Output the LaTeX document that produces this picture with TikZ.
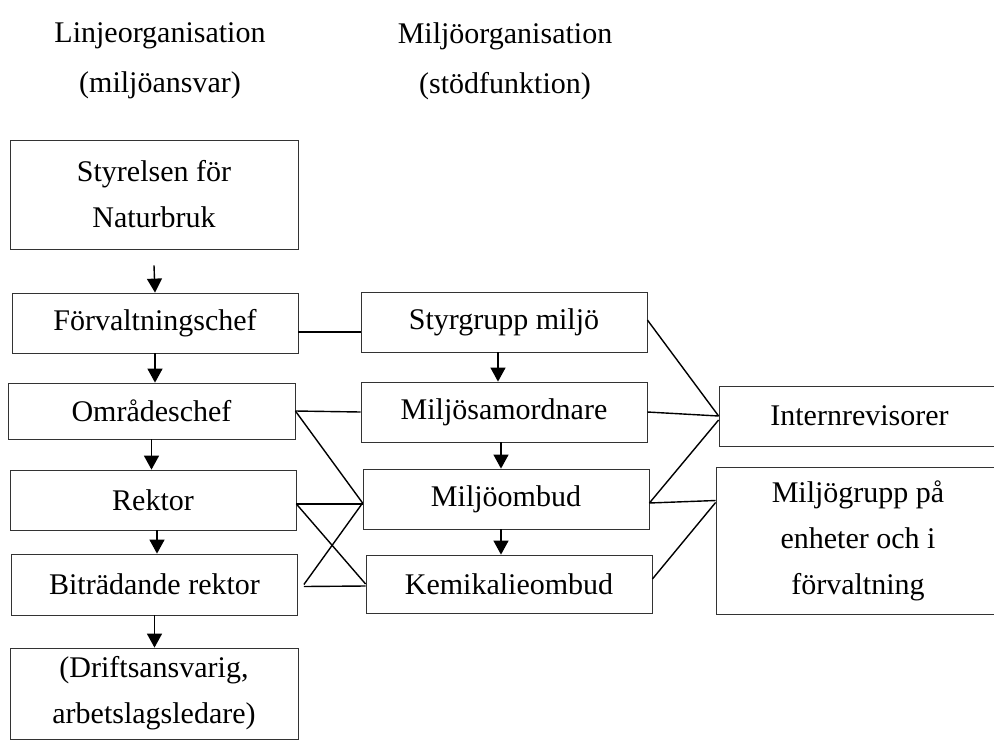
\documentclass[tikz,border=0pt]{standalone}
\usepackage{fontspec}
\setmainfont{Liberation Serif}
\usetikzlibrary{arrows.meta}

\tikzset{
  box/.style={draw=black!80, line width=0.8pt, minimum width=286pt, minimum height=60pt,
    inner sep=0pt, align=center, font=\fontsize{30}{46}\selectfont},
  title/.style={align=center, font=\fontsize{30}{50}\selectfont},
  arr/.style={-{Triangle[width=15pt,length=14pt]}, line width=1.4pt},
  link/.style={line width=1.4pt}
}

\begin{document}
\begin{tikzpicture}[x=1pt,y=-1pt]
\useasboundingbox (0,0) rectangle (994,740);

\node[title] (tline) at (160,61) {Linjeorganisation\\(miljöansvar)};
\node[title] (tmiljo) at (505,61) {Miljöorganisation\\(stödfunktion)};

% linjeorganisation
\node[box, minimum width=288pt, minimum height=109pt] (styrelsen) at (154,194.5) {Styrelsen för\\Naturbruk};
\node[box] (forv) at (155,323) {Förvaltningschef};
\node[box, minimum width=287pt, minimum height=56pt] (omr) at (151.5,411) {Områdeschef};
\node[box] (rektor) at (153,500) {Rektor};
\node[box, minimum height=61pt] (bitr) at (154.5,584.5) {Biträdande rektor};
\node[box, minimum width=288pt, minimum height=91pt] (drift) at (154,693.5) {(Driftsansvarig,\\arbetslagsledare)};

% miljöorganisation
\node[box] (styr) at (504,322) {Styrgrupp miljö};
\node[box] (msam) at (504,412) {Miljösamordnare};
\node[box] (mombud) at (506,499) {Miljöombud};
\node[box, minimum height=58pt] (kemi) at (509,584) {Kemikalieombud};

\node[box, minimum width=281pt] (intern) at (859.5,416) {Internrevisorer};
\node[box, minimum width=284pt, minimum height=147pt] (mgrupp) at (858,540.5) {Miljögrupp på\\enheter och i\\förvaltning};

% pilar
\draw[arr] ([yshift=-16pt]styrelsen.south) -- (forv.north);
\draw[arr] (forv.south) -- (forv.south |- omr.north);
\draw[arr] (omr.south) -- (omr.south |- rektor.north);
\draw[arr] ([xshift=4pt]rektor.south) -- ([xshift=4pt]rektor.south |- bitr.north);
\draw[arr] (bitr.south) -- (bitr.south |- drift.north);
\draw[arr] ([xshift=-6pt]styr.south) -- ([xshift=-6pt]styr.south |- msam.north);
\draw[arr] ([xshift=-5pt]mombud.north |- msam.south) -- ([xshift=-5pt]mombud.north);
\draw[arr] ([xshift=-5pt]mombud.south) -- ([xshift=-5pt]mombud.south |- kemi.north);

% linjer
\draw[link] ([yshift=-9pt]forv.east) -- ([yshift=-10pt]styr.west);
\draw[link] (omr.east) -- (msam.west);
\draw[link] (omr.east) -- ([yshift=-4pt]mombud.west);
\draw[link] ([yshift=-4pt]rektor.east) -- ([yshift=-5pt]mombud.west);
\draw[link] ([yshift=-4pt]rektor.east) -- (kemi.west);
\draw[link] ([xshift=6pt]bitr.east) -- ([yshift=-4pt]mombud.west);
\draw[link] ([xshift=6pt,yshift=-2pt]bitr.east) -- ([yshift=-2pt]kemi.west);

\draw[link] ([yshift=2pt]styr.east) -- (intern.west);
\draw[link] (msam.east) -- (intern.west);
\draw[link] ([yshift=-4pt]mombud.east) -- ([yshift=-4pt]intern.west);
\draw[link] ([yshift=-4pt]mombud.east) -- ([yshift=40pt]mgrupp.west);
\draw[link] ([yshift=5pt]kemi.east) -- ([yshift=38pt]mgrupp.west);

\end{tikzpicture}
\end{document}
